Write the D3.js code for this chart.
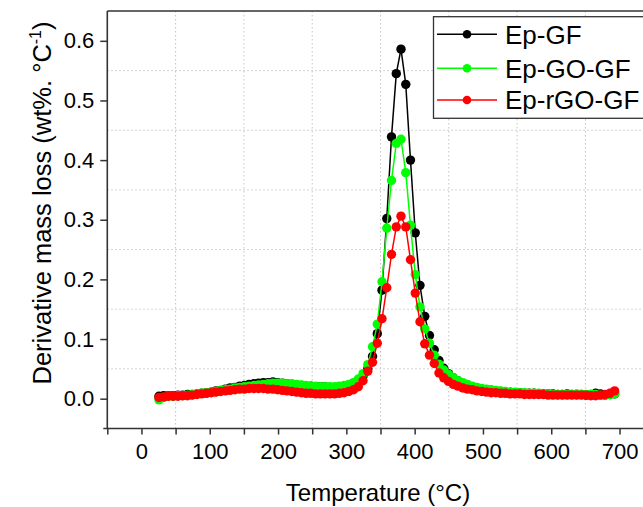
<!DOCTYPE html>
<html>
<head>
<meta charset="utf-8">
<script src="https://cdn.jsdelivr.net/npm/d3@7"></script>
<style>
  body { margin: 0; background: #fff; }
  svg { font-family: "Liberation Sans", Arial, sans-serif; }
</style>
</head>
<body>
<svg id="chart" width="643" height="507"></svg>
<script>
// temperature of each sample (°C)
var temperature = [25.6, 32.5, 39.5, 46.4, 53.4, 60.3, 67.3, 74.2, 81.2, 88.1,
  95.1, 102.0, 109.0, 115.9, 122.9, 129.8, 136.8, 143.7, 150.7, 157.6,
  164.6, 171.5, 178.5, 185.4, 192.4, 199.3, 206.3, 213.2, 220.2, 227.1,
  234.1, 241.0, 248.0, 254.9, 261.9, 268.8, 275.8, 282.7, 289.7, 296.6,
  303.6, 310.5, 317.5, 324.4, 331.4, 338.3, 345.3, 352.2, 359.2, 366.1,
  373.1, 380.0, 387.0, 393.9, 400.9, 407.8, 414.8, 421.7, 428.7, 435.6,
  442.6, 449.5, 456.5, 463.4, 470.4, 477.3, 484.3, 491.2, 498.2, 505.1,
  512.1, 519.0, 526.0, 532.9, 539.9, 546.8, 553.8, 560.7, 567.7, 574.6,
  581.6, 588.5, 595.5, 602.4, 609.4, 616.3, 623.3, 630.2, 637.2, 644.1,
  651.1, 658.0, 665.0, 671.9, 678.9, 685.8, 692.8];

var epGF = [0.004, 0.005, 0.005, 0.005, 0.006, 0.006, 0.007, 0.007, 0.008, 0.009,
  0.010, 0.011, 0.013, 0.014, 0.016, 0.018, 0.019, 0.021, 0.022, 0.024,
  0.025, 0.026, 0.027, 0.027, 0.028, 0.027, 0.026, 0.025, 0.024, 0.023,
  0.022, 0.021, 0.021, 0.020, 0.020, 0.020, 0.019, 0.019, 0.020, 0.021,
  0.023, 0.026, 0.031, 0.038, 0.050, 0.071, 0.109, 0.182, 0.302, 0.439,
  0.545, 0.586, 0.527, 0.400, 0.278, 0.190, 0.138, 0.106, 0.082, 0.064,
  0.051, 0.042, 0.035, 0.030, 0.026, 0.023, 0.020, 0.018, 0.016, 0.015,
  0.014, 0.013, 0.012, 0.011, 0.011, 0.010, 0.010, 0.009, 0.009, 0.009,
  0.008, 0.008, 0.008, 0.008, 0.007, 0.007, 0.008, 0.007, 0.007, 0.007,
  0.006, 0.007, 0.009, 0.008, 0.006, 0.007, 0.008];

var epGOGF = [-0.002, 0.002, 0.004, 0.004, 0.005, 0.005, 0.006, 0.007, 0.008, 0.009,
  0.010, 0.011, 0.012, 0.014, 0.015, 0.016, 0.018, 0.019, 0.020, 0.021,
  0.022, 0.023, 0.024, 0.025, 0.026, 0.026, 0.026, 0.025, 0.025, 0.024,
  0.023, 0.022, 0.021, 0.021, 0.020, 0.020, 0.020, 0.020, 0.021, 0.022,
  0.024, 0.027, 0.033, 0.042, 0.057, 0.087, 0.125, 0.196, 0.286, 0.366,
  0.428, 0.435, 0.379, 0.291, 0.208, 0.154, 0.117, 0.093, 0.073, 0.058,
  0.048, 0.041, 0.035, 0.030, 0.027, 0.024, 0.021, 0.019, 0.017, 0.016,
  0.015, 0.014, 0.013, 0.012, 0.011, 0.011, 0.010, 0.010, 0.009, 0.009,
  0.009, 0.008, 0.008, 0.007, 0.007, 0.007, 0.007, 0.007, 0.008, 0.007,
  0.007, 0.007, 0.007, 0.006, 0.006, 0.007, 0.008];

var epRGOGF = [0.002, 0.003, 0.004, 0.004, 0.004, 0.005, 0.005, 0.006, 0.007, 0.008,
  0.009, 0.010, 0.011, 0.012, 0.013, 0.014, 0.015, 0.016, 0.016, 0.017,
  0.017, 0.017, 0.017, 0.016, 0.016, 0.015, 0.014, 0.013, 0.012, 0.011,
  0.010, 0.009, 0.009, 0.008, 0.008, 0.008, 0.008, 0.008, 0.009, 0.010,
  0.012, 0.015, 0.020, 0.030, 0.046, 0.061, 0.093, 0.134, 0.186, 0.242,
  0.288, 0.306, 0.288, 0.233, 0.177, 0.129, 0.092, 0.073, 0.059, 0.043,
  0.035, 0.029, 0.024, 0.021, 0.018, 0.016, 0.015, 0.013, 0.012, 0.011,
  0.010, 0.010, 0.009, 0.009, 0.008, 0.008, 0.008, 0.007, 0.007, 0.007,
  0.007, 0.007, 0.006, 0.006, 0.006, 0.006, 0.006, 0.006, 0.006, 0.006,
  0.006, 0.005, 0.005, 0.006, 0.007, 0.009, 0.013];

var seriesNames = ["Ep-GF", "Ep-GO-GF", "Ep-rGO-GF"];
var seriesColors = ["#000000", "#00ff00", "#ff0000"];
var seriesValues = [epGF, epGOGF, epRGOGF];

var xTicks = [0, 100, 200, 300, 400, 500, 600, 700];
var xGrid = [50, 150, 250, 350, 450, 550, 650];
var yTicks = [0.0, 0.1, 0.2, 0.3, 0.4, 0.5, 0.6];
var yGrid = [0.05, 0.15, 0.25, 0.35, 0.45, 0.55];

var svg = d3.select("#chart");

var plotLeft = 107.3, plotRight = 653.7, plotTop = 11, plotBottom = 428.5;

var x = d3.scaleLinear().domain([-50, 750]).range([plotLeft, plotRight]);
var y = d3.scaleLinear().domain([-0.05, 0.65]).range([plotBottom, plotTop]);

// grid
svg.append("g").selectAll("line")
  .data(xGrid).enter().append("line")
  .attr("x1", function(d) { return x(d); }).attr("x2", function(d) { return x(d); })
  .attr("y1", plotTop).attr("y2", plotBottom)
  .attr("stroke", "#c4c4c4").attr("stroke-width", 1).attr("stroke-dasharray", "1.5,2.5");
svg.append("g").selectAll("line")
  .data(yGrid).enter().append("line")
  .attr("x1", plotLeft).attr("x2", plotRight)
  .attr("y1", function(d) { return y(d); }).attr("y2", function(d) { return y(d); })
  .attr("stroke", "#c4c4c4").attr("stroke-width", 1).attr("stroke-dasharray", "1.5,2.5");

// x axis
var xAxis = svg.append("g")
  .attr("transform", "translate(0," + plotBottom + ")")
  .call(d3.axisBottom(x).tickValues(xTicks).tickSize(6).tickPadding(9).tickFormat(d3.format("d")));
xAxis.select(".domain").remove();
svg.append("g")
  .attr("transform", "translate(0," + plotBottom + ")")
  .call(d3.axisBottom(x).tickValues(xGrid.concat([-50])).tickSize(6).tickFormat(""))
  .select(".domain").remove();

// y axis
var yAxis = svg.append("g")
  .attr("transform", "translate(" + plotLeft + ",0)")
  .call(d3.axisLeft(y).tickValues(yTicks).tickSize(7).tickPadding(6).tickFormat(d3.format(".1f")));
yAxis.select(".domain").remove();

svg.selectAll(".tick text").attr("font-size", 22).attr("fill", "#000")
  .attr("font-family", "Liberation Sans, Arial, sans-serif");
svg.selectAll(".tick line").attr("stroke", "#333").attr("stroke-width", 1.5);

// frame
svg.append("line").attr("x1", plotLeft - 4).attr("x2", plotRight).attr("y1", plotBottom).attr("y2", plotBottom)
  .attr("stroke", "#333").attr("stroke-width", 1.6);
svg.append("line").attr("x1", plotLeft).attr("x2", plotLeft).attr("y1", plotTop).attr("y2", plotBottom)
  .attr("stroke", "#333").attr("stroke-width", 1.6);
svg.append("line").attr("x1", plotLeft).attr("x2", plotRight).attr("y1", plotTop).attr("y2", plotTop)
  .attr("stroke", "#333").attr("stroke-width", 1.6);
svg.append("line").attr("x1", plotRight).attr("x2", plotRight).attr("y1", plotTop).attr("y2", plotBottom)
  .attr("stroke", "#333").attr("stroke-width", 1.6);

// series
var line = d3.line()
  .x(function(d) { return x(d[0]); })
  .y(function(d) { return y(d[1]); });

for (var s = 0; s < seriesNames.length; s++) {
  var pts = temperature.map(function(t, i) { return [t, seriesValues[s][i]]; });
  var g = svg.append("g");
  g.append("path").datum(pts)
    .attr("d", line)
    .attr("fill", "none")
    .attr("stroke", seriesColors[s])
    .attr("stroke-width", 1.5);
  g.selectAll("circle").data(pts).enter().append("circle")
    .attr("cx", function(d) { return x(d[0]); })
    .attr("cy", function(d) { return y(d[1]); })
    .attr("r", 4.7)
    .attr("fill", seriesColors[s]);
}

// legend
var legend = svg.append("g");
legend.append("rect")
  .attr("x", 433.5).attr("y", 16.7).attr("width", 240).attr("height", 101.6)
  .attr("fill", "#fff").attr("stroke", "#333").attr("stroke-width", 1.3);
var legendY = [34.3, 68.3, 100];
for (var k = 0; k < seriesNames.length; k++) {
  legend.append("line")
    .attr("x1", 437).attr("x2", 497).attr("y1", legendY[k]).attr("y2", legendY[k])
    .attr("stroke", seriesColors[k]).attr("stroke-width", 1.5);
  legend.append("circle")
    .attr("cx", 467).attr("cy", legendY[k]).attr("r", 4.3)
    .attr("fill", seriesColors[k]);
  legend.append("text")
    .attr("x", 505).attr("y", legendY[k] + 9.2)
    .attr("font-size", 26)
    .text(seriesNames[k]);
}

// axis titles
svg.append("text")
  .attr("x", 378).attr("y", 501)
  .attr("text-anchor", "middle")
  .attr("font-size", 24)
  .text("Temperature (°C)");

var yt = svg.append("text")
  .attr("transform", "translate(51,203) rotate(-90)")
  .attr("text-anchor", "middle")
  .attr("font-size", 25.5);
yt.append("tspan").text("Derivative mass loss (wt%. °C");
yt.append("tspan").attr("dy", -10).attr("font-size", 16).text("-1");
yt.append("tspan").attr("dy", 10).text(")");
</script>
</body>
</html>
